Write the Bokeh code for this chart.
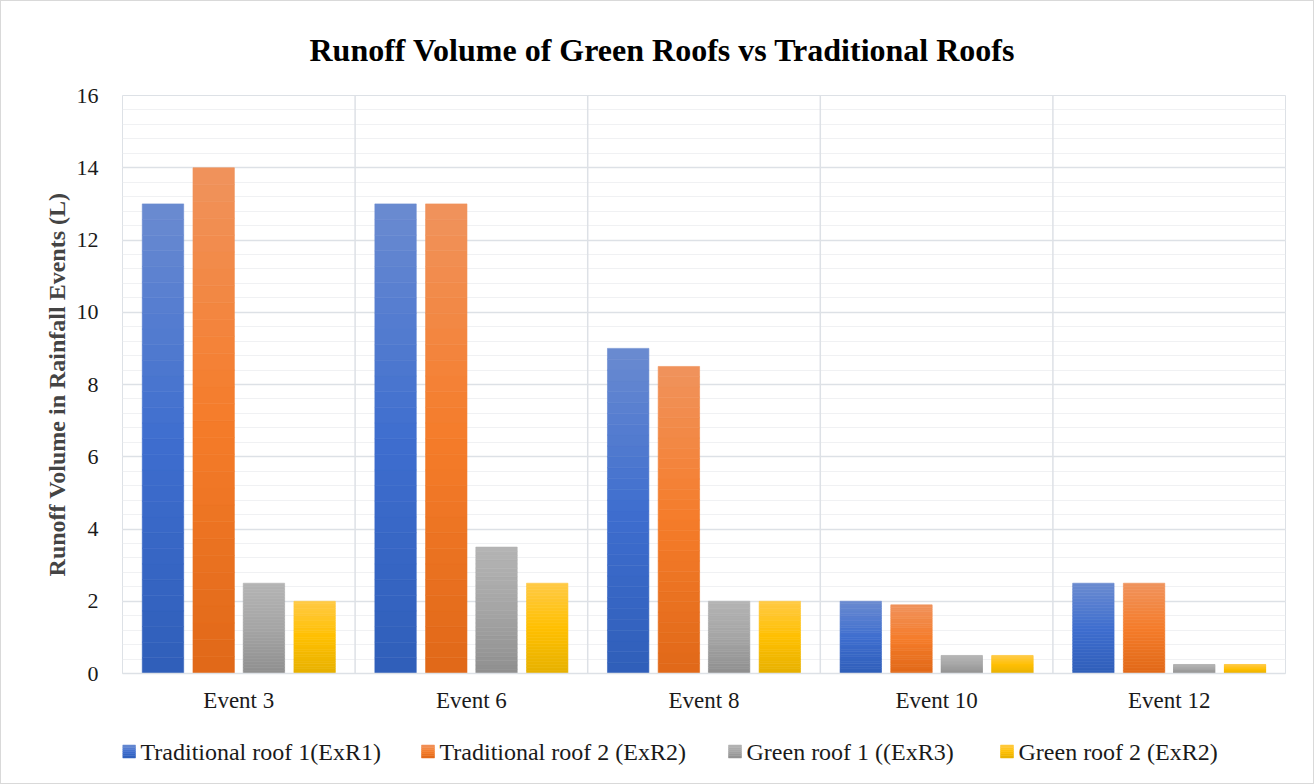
import numpy as np
from bokeh.plotting import figure
from bokeh.layouts import column
from bokeh.models import (ColumnDataSource, FactorRange, Range1d, Span, SingleIntervalTicker)
from bokeh.core.properties import value
from bokeh.transform import dodge
from bokeh.embed import file_html
from bokeh.resources import INLINE

# ---- data ----
events = ["Event 3", "Event 6", "Event 8", "Event 10", "Event 12"]
trad_roof_1 = [13, 13, 9, 2, 2.5]
trad_roof_2 = [14, 13, 8.5, 1.9, 2.5]
green_roof_1 = [2.5, 3.5, 2, 0.5, 0.25]
green_roof_2 = [2, 2.5, 2, 0.5, 0.25]
series_names = ["Traditional roof 1(ExR1)", "Traditional roof 2 (ExR2)",
                "Green roof 1 ((ExR3)", "Green roof 2 (ExR2)"]
series_values = [trad_roof_1, trad_roof_2, green_roof_1, green_roof_2]

# ---- style ----
gradients = [  # bottom, middle, top
    ("#2f5eb9", "#3f6ecf", "#6a8bd0"),
    ("#e06818", "#f57c2a", "#f0935d"),
    ("#8f8f8f", "#a5a5a5", "#b4b4b4"),
    ("#e6b000", "#ffc000", "#ffca45"),
]
offsets = [-0.326, -0.108, 0.108, 0.326]
bar_w = 0.178
N = 30

W = 1312
FRAME_L, FRAME_R = 121, 1284
legend_left = [121, 420, 727, 999]   # legend entry positions (canvas px)
LEG_Y = 32
SQ = 13

FONT = "Liberation Serif"
GRID = "#dde1e6"
MINOR = "#f0f1f3"
TXT = "#1a1a1a"


def hex2rgb(h):
    h = h.lstrip("#")
    return np.array([int(h[i:i + 2], 16) for i in (0, 2, 4)], dtype=float)


def interp(stops, f):
    b, m, t = [hex2rgb(s) for s in stops]
    if f < 0.5:
        c = b + (m - b) * (f / 0.5)
    else:
        c = m + (t - m) * ((f - 0.5) / 0.5)
    return "#%02x%02x%02x" % tuple(int(round(v)) for v in c)


p = figure(width=W, height=730, x_range=FactorRange(*events), y_range=Range1d(0, 16),
           output_backend="svg", toolbar_location=None,
           min_border_left=FRAME_L, min_border_right=W - FRAME_R,
           min_border_top=94, min_border_bottom=58)

p.title.text = "Runoff Volume of Green Roofs vs Traditional Roofs"
p.title.text_font = FONT
p.title.text_font_style = "bold"
p.title.text_font_size = "32px"
p.title.align = "left"
p.title.offset = 187
p.title.standoff = 56
p.title.text_color = "#000000"

p.outline_line_color = GRID
p.xgrid.grid_line_color = None
p.ygrid.grid_line_color = GRID
p.ygrid.minor_grid_line_color = MINOR
p.ygrid.grid_line_width = 1.5

p.yaxis.ticker = SingleIntervalTicker(interval=2, num_minor_ticks=5)
p.yaxis.axis_line_color = None
p.yaxis.major_tick_line_color = None
p.yaxis.minor_tick_line_color = None
p.yaxis.major_label_text_font = FONT
p.yaxis.major_label_text_font_size = "22px"
p.yaxis.major_label_text_color = TXT
p.yaxis.major_label_standoff = 18
p.yaxis.axis_label = "Runoff Volume in Rainfall Events (L)"
p.yaxis.axis_label_text_font = FONT
p.yaxis.axis_label_text_font_style = "bold"
p.yaxis.axis_label_text_font_size = "24px"
p.yaxis.axis_label_standoff = 4

p.xaxis.axis_line_color = GRID
p.xaxis.axis_line_width = 1.5
p.xaxis.major_tick_line_color = None
p.xaxis.minor_tick_line_color = None
p.xaxis.major_label_text_font = FONT
p.xaxis.major_label_text_font_size = "23px"
p.xaxis.major_label_text_color = TXT
p.xaxis.major_label_standoff = 8

for loc in range(1, len(events)):
    p.add_layout(Span(location=loc, dimension="height", line_color=GRID, line_width=1.5))

for vals, stops, off in zip(series_values, gradients, offsets):
    xs, bots, tops, cols = [], [], [], []
    for ev, v in zip(events, vals):
        for i in range(N):
            xs.append(ev)
            bots.append(v * i / N)
            tops.append(v * (i + 1) / N)
            cols.append(interp(stops, (i + 0.5) / N))
    src = ColumnDataSource(dict(x=xs, bottom=bots, top=tops, color=cols))
    p.vbar(x=dodge("x", off, range=p.x_range), bottom="bottom", top="top", width=bar_w,
           source=src, fill_color="color", line_color="color", line_width=0.6)

# ---- legend strip (its frame is aligned with the main frame; x in canvas px) ----
LH = 52
lg = figure(width=W, height=LH, x_range=Range1d(FRAME_L, FRAME_R), y_range=Range1d(0, LH),
            output_backend="svg", toolbar_location=None,
            x_axis_location=None, y_axis_location=None,
            min_border_left=FRAME_L, min_border_right=W - FRAME_R,
            min_border_top=0, min_border_bottom=0)
lg.outline_line_color = None
lg.xgrid.visible = False
lg.ygrid.visible = False

SL = 6
for name, stops, x0 in zip(series_names, gradients, legend_left):
    qs = dict(left=[], right=[], bottom=[], top=[], color=[])
    for i in range(SL):
        qs["left"].append(x0)
        qs["right"].append(x0 + SQ)
        qs["bottom"].append(LEG_Y - SQ / 2 + SQ * i / SL)
        qs["top"].append(LEG_Y - SQ / 2 + SQ * (i + 1) / SL)
        qs["color"].append(interp(stops, (i + 0.5) / SL))
    lg.quad(source=ColumnDataSource(qs), left="left", right="right", bottom="bottom",
            top="top", fill_color="color", line_color="color", line_width=0.5)
    lg.text(x=[x0 + SQ + 5], y=[LEG_Y], text=[name], text_font=value(FONT),
            text_font_size="24px", text_color=TXT, text_baseline="middle", text_align="left")

layout = column(p, lg, spacing=0)
layout.styles = {"border": "1px solid #d9d9d9"}

open("out.html", "w").write(file_html(layout, INLINE))
